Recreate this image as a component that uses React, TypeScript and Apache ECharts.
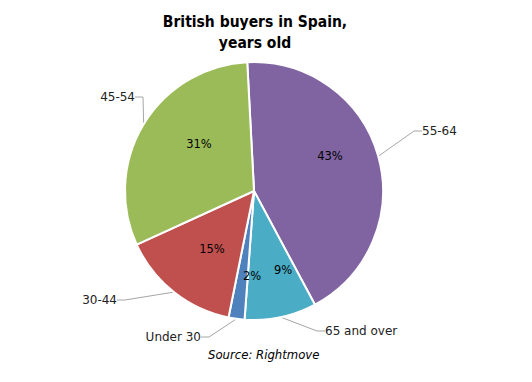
import React, { useEffect, useRef } from "react";
import * as echarts from "echarts";

const categories = ["55-64", "65 and over", "Under 30", "30-44", "45-54"];
const values = [43, 9, 2, 15, 31];
const colors = ["#8064A2", "#4BACC6", "#4F81BD", "#C0504D", "#9BBB59"];
const titleText = "British buyers in Spain,\nyears old";
const sourceText = "Source: Rightmove";

// outside label anchor placements (layout only)
const labelPlacement = [
  { x: 422, y: 131, align: "left" },
  { x: 325, y: 331, align: "left" },
  { x: 201, y: 337, align: "right" },
  { x: 117, y: 300, align: "right" },
  { x: 135, y: 97, align: "right" },
];
// inside percentage label placements (layout only)
const pctPlacement = [
  { x: 330, y: 156 },
  { x: 283, y: 270 },
  { x: 252, y: 276 },
  { x: 212, y: 249 },
  { x: 199, y: 144 },
];

export default function App() {
  const ref = useRef<HTMLDivElement>(null);
  useEffect(() => {
    if (!ref.current) return;
    document.body.style.margin = "0";
    const chart = echarts.init(ref.current, undefined, { renderer: "svg" });
    const data = categories.map((c, i) => ({
      name: c,
      value: values[i],
      itemStyle: { color: colors[i] },
    }));
    chart.setOption({
      animation: false,
      backgroundColor: "#ffffff",
      title: {
        text: titleText,
        left: 250,
        textAlign: "center",
        top: 6,
        textStyle: {
          fontFamily: "DejaVu Sans Condensed",
          fontWeight: "bold",
          fontSize: 15.5,
          lineHeight: 21,
          color: "#000",
        },
      },
      graphic: [
        {
          type: "text",
          left: 208,
          top: 349,
          style: {
            text: sourceText,
            fontFamily: "DejaVu Sans",
            fontStyle: "italic",
            fontSize: 11.7,
            fill: "#000",
          },
        },
      ],
      series: [
        {
          type: "pie",
          center: [254, 191],
          radius: 129,
          startAngle: 93,
          clockwise: true,
          data,
          itemStyle: { borderColor: "#fff", borderWidth: 2 },
          label: {
            show: true,
            position: "outside",
            formatter: "{b}",
            fontFamily: "DejaVu Sans",
            fontSize: 12,
            color: "#222",
          },
          labelLine: {
            show: true,
            length: 15,
            length2: 8,
            lineStyle: { color: "#a6a6a6", width: 1 },
          },
          labelLayout: (p: any) => {
            const lp = labelPlacement[p.dataIndex];
            return { x: lp.x, y: lp.y, align: lp.align, verticalAlign: "middle" };
          },
          emphasis: { disabled: true },
        },
        {
          type: "pie",
          center: [254, 191],
          radius: [60, 116],
          startAngle: 93,
          clockwise: true,
          silent: true,
          data: categories.map((c, i) => ({ name: c, value: values[i] })),
          itemStyle: { color: "rgba(0,0,0,0)" },
          label: {
            show: true,
            position: "inner",
            formatter: "{c}%",
            fontFamily: "DejaVu Sans",
            fontSize: 11.5,
            color: "#000",
          },
          labelLine: { show: false },
          labelLayout: (p: any) => {
            const lp = pctPlacement[p.dataIndex];
            return { x: lp.x, y: lp.y, align: "center", verticalAlign: "middle" };
          },
          emphasis: { disabled: true },
        },
      ],
    });
    return () => chart.dispose();
  }, []);
  return <div ref={ref} style={{ width: 532, height: 382 }} />;
}
